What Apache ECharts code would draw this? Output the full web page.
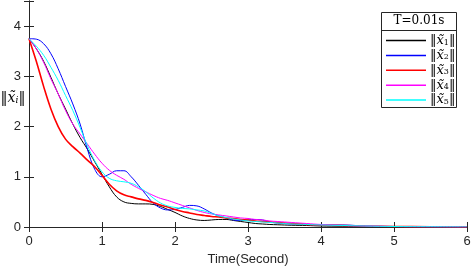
<!DOCTYPE html>
<html><head><meta charset="utf-8">
<script src="https://cdn.jsdelivr.net/npm/echarts@6/dist/echarts.min.js"></script>
<style>html,body{margin:0;padding:0;background:#fff}#c{width:471px;height:269px}</style>
</head><body><div id="c"></div>
<script>
const times = [0,0.1,0.2,0.3,0.4,0.5,0.6,0.7,0.8,0.9,1.0,1.1,1.2,1.3,1.4,1.5,1.6,1.7,1.8,1.9,2.0,2.1,2.2,2.3,2.4,2.5,2.6,2.7,2.8,2.9,3.0,3.1,3.2,3.3,3.4,3.6,3.8,4.0,4.3,4.6,5.0,5.5,6.0];
const x1 = [3.75,3.55,3.3,2.98,2.65,2.35,2.05,1.78,1.55,1.3,1.05,0.8,0.6,0.5,0.47,0.46,0.46,0.45,0.41,0.35,0.29,0.22,0.17,0.14,0.13,0.14,0.15,0.15,0.13,0.11,0.09,0.07,0.06,0.05,0.045,0.035,0.03,0.02,0.015,0.01,0.005,0.002,0.001];
const x2 = [3.75,3.74,3.65,3.45,3.15,2.8,2.45,2.05,1.55,1.15,1.0,1.05,1.12,1.12,1.0,0.83,0.65,0.48,0.38,0.34,0.35,0.39,0.43,0.42,0.36,0.28,0.22,0.18,0.14,0.13,0.14,0.15,0.14,0.1,0.08,0.06,0.05,0.04,0.04,0.02,0.01,0.005,0.002];
const x3 = [3.75,3.3,2.8,2.35,2.0,1.75,1.6,1.47,1.33,1.2,1.03,0.85,0.72,0.64,0.6,0.56,0.53,0.49,0.44,0.4,0.35,0.31,0.28,0.25,0.23,0.21,0.2,0.18,0.17,0.15,0.14,0.12,0.11,0.1,0.09,0.07,0.05,0.04,0.03,0.02,0.01,0.005,0.002];
const x4 = [3.75,3.55,3.28,2.95,2.65,2.32,2.05,1.85,1.65,1.45,1.27,1.13,1.03,0.95,0.85,0.77,0.7,0.63,0.57,0.53,0.48,0.43,0.38,0.33,0.29,0.26,0.24,0.22,0.2,0.18,0.17,0.15,0.14,0.12,0.11,0.09,0.07,0.05,0.03,0.02,0.01,0.005,0.002];
const x5 = [3.75,3.6,3.42,3.18,2.92,2.62,2.32,1.98,1.62,1.32,1.1,0.97,0.92,0.9,0.87,0.8,0.7,0.58,0.48,0.42,0.39,0.37,0.36,0.34,0.32,0.27,0.22,0.19,0.16,0.14,0.12,0.11,0.1,0.09,0.08,0.06,0.05,0.04,0.03,0.02,0.01,0.005,0.002];
const seriesNames = ['x1','x2','x3','x4','x5'];
const subs = ['1','2','3','4','5'];
const colors = ['#000000','#0000ff','#ff0000','#ff00ff','#00ffff'];
const widths = [1,1,1.6,1,1];
const xTicks = [0,1,2,3,4,5,6];
const yTicks = [0,1,2,3,4];

const all = [x1,x2,x3,x4,x5];
const chart = echarts.init(document.getElementById('c'));
const axisColor = '#262626';
const font = 'Liberation Sans, Arial, sans-serif';
const serif = '"DejaVu Serif", "Liberation Serif", serif';
const rich = {
  b:{fontFamily:serif,fontSize:13,color:'#000',lineHeight:12},
  x:{fontFamily:serif,fontStyle:'italic',fontSize:13,color:'#000',lineHeight:12},
  s:{fontFamily:serif,fontSize:8,color:'#000',lineHeight:12,padding:[4,0,0,0]}
};
chart.setOption({
  animation:false,
  grid:{left:29,right:4,top:1,bottom:42,containLabel:false,outerBoundsMode:'none'},
  xAxis:[{type:'value',min:0,max:6,interval:1,
      axisLine:{lineStyle:{color:axisColor,width:1}},
      axisTick:{inside:true,length:5,lineStyle:{color:axisColor}},
      axisLabel:{color:axisColor,fontSize:13,fontFamily:font,margin:8,formatter:v=>xTicks.includes(v)?String(v):''},
      splitLine:{show:false},
      name:'Time(Second)',nameLocation:'middle',nameGap:26,
      nameTextStyle:{color:axisColor,fontSize:13,fontFamily:font}},
    {type:'value',min:0,max:6,interval:1,position:'top',
      axisLine:{show:true,lineStyle:{color:axisColor,width:1}},
      axisTick:{inside:true,length:5,lineStyle:{color:axisColor}},
      axisLabel:{show:false},splitLine:{show:false}}],
  yAxis:[{type:'value',min:0,max:4.5,interval:1,
      axisLine:{show:true,lineStyle:{color:axisColor,width:1}},
      axisTick:{show:true,inside:true,length:5,lineStyle:{color:axisColor}},
      axisLabel:{color:axisColor,fontSize:13,fontFamily:font,margin:8,formatter:v=>yTicks.includes(v)?String(v):''},
      splitLine:{show:false}},
    {type:'value',min:0,max:4.5,interval:1,position:'right',
      axisLine:{show:true,lineStyle:{color:axisColor,width:1}},
      axisTick:{show:true,inside:true,length:5,lineStyle:{color:axisColor}},
      axisLabel:{show:false},splitLine:{show:false}}],
  legend:{orient:'vertical',left:386,top:34,padding:0,itemWidth:40,itemHeight:1.5,itemGap:1.9,
    icon:'rect',
    data:seriesNames.map((n,i)=>({name:n,itemStyle:{color:colors[i]}})),
    formatter:n=>'{b|\u2016}{x|x\u0303}{s|'+subs[seriesNames.indexOf(n)]+'}{b|\u2016}',
    textStyle:{rich:rich,lineHeight:12,padding:[0,0,0,-1]}},
  graphic:[
    {type:'rect',shape:{x:381.5,y:12.5,width:75,height:95},style:{fill:'#fff',stroke:'#262626',lineWidth:1},z:-1,zlevel:0},
    {type:'line',shape:{x1:381.5,y1:30.5,x2:456.5,y2:30.5},style:{stroke:'#262626',lineWidth:1}},
    {type:'text',x:419,y:21,style:{text:'T=0.01s',font:'12px "DejaVu Serif", serif',fill:'#000',align:'center',verticalAlign:'middle'}},
    {type:'text',x:13,y:98,style:{text:'{b|\u2016}{x|x\u0303}{s|i}{b|\u2016}',rich:{
      b:{fontFamily:serif,fontSize:14,color:'#000'},
      x:{fontFamily:serif,fontStyle:'italic',fontSize:14,color:'#000'},
      s:{fontFamily:serif,fontStyle:'italic',fontSize:9,color:'#000',padding:[6,0,0,0]}},
      align:'center',verticalAlign:'middle'}}
  ],
  series:all.map((arr,i)=>({name:seriesNames[i],type:'line',smooth:0.4,showSymbol:false,
    lineStyle:{color:colors[i],width:widths[i]},itemStyle:{color:colors[i]},
    data:times.map((t,j)=>[t,arr[j]])}))
});
</script></body></html>
